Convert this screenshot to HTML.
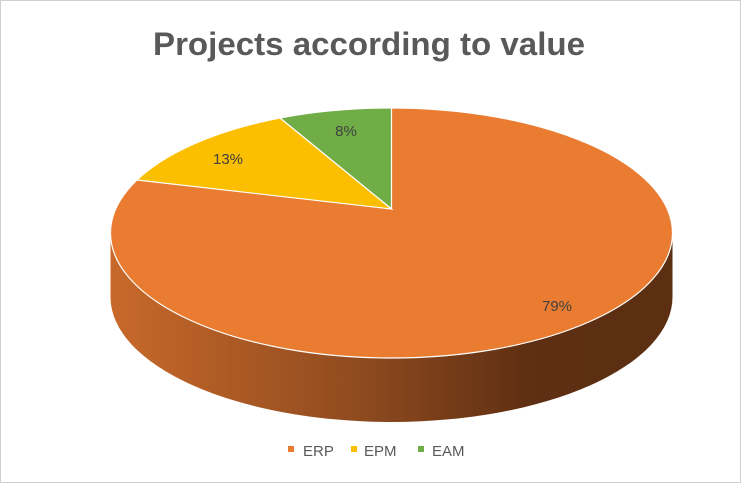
<!DOCTYPE html>
<html><head><style>
html,body{margin:0;padding:0;background:#fff;}
svg{display:block;}
text{font-family:"Liberation Sans",Arial,sans-serif;}
</style></head><body>
<svg width="741" height="483" viewBox="0 0 741 483" xmlns="http://www.w3.org/2000/svg">
<defs>
<linearGradient id="side" x1="110" y1="0" x2="673" y2="0" gradientUnits="userSpaceOnUse">
<stop offset="0" stop-color="#c8692a"/>
<stop offset="0.45" stop-color="#8e4a1f"/>
<stop offset="0.75" stop-color="#5e2f12"/>
<stop offset="1" stop-color="#5c2f12"/>
</linearGradient>
</defs>
<rect x="0.5" y="0.5" width="740" height="482" fill="#fff" stroke="#d0d0d0"/>
<text x="369" y="55" text-anchor="middle" font-size="32" font-weight="bold" fill="#595959" textLength="432" lengthAdjust="spacingAndGlyphs">Projects according to value</text>
<path d="M110.5,233 L110.5,297 A281,125 0 0 0 672.5,297 L672.5,233 Z" fill="url(#side)"/>
<ellipse cx="391.5" cy="233" rx="281" ry="125" fill="#e97c31" stroke="#fff" stroke-width="1.2"/>
<path d="M391.5,209 L391.5,108 A281,125 0 0 0 280,118 Z" fill="#70ad47" stroke="#fff" stroke-width="1.2"/>
<path d="M391.5,209 L280,118 A281,125 0 0 0 137,180 Z" fill="#fbbf00" stroke="#fff" stroke-width="1.2"/>
<text x="346" y="136" text-anchor="middle" font-size="15" fill="#404040">8%</text>
<text x="228" y="164" text-anchor="middle" font-size="15" fill="#404040">13%</text>
<text x="557" y="311" text-anchor="middle" font-size="15" fill="#404040">79%</text>
<rect x="288" y="446" width="6" height="6" fill="#e97c31"/>
<text x="303" y="456" font-size="15" fill="#595959">ERP</text>
<rect x="351" y="446" width="6" height="6" fill="#fbbf00"/>
<text x="364" y="456" font-size="15" fill="#595959">EPM</text>
<rect x="418" y="446" width="6" height="6" fill="#70ad47"/>
<text x="432" y="456" font-size="15" fill="#595959">EAM</text>
</svg>
</body></html>
